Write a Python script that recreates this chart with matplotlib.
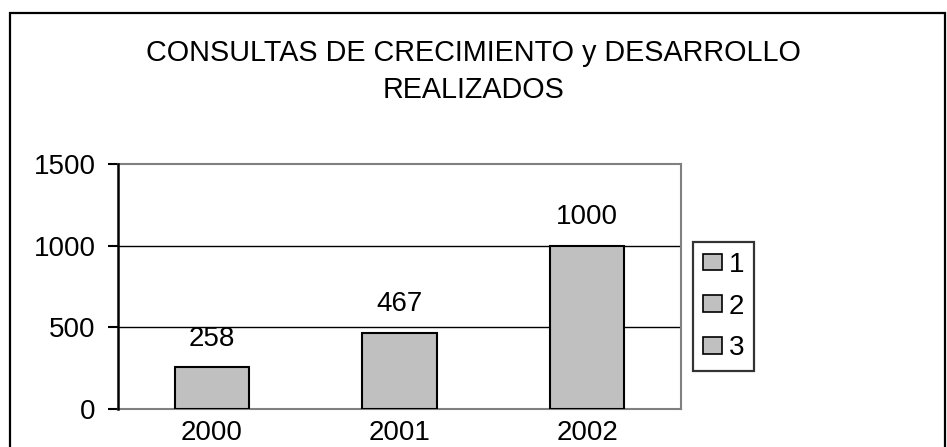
import matplotlib.pyplot as plt
from matplotlib.patches import Rectangle

plt.rcParams["font.family"] = ["Liberation Sans", "DejaVu Sans"]

TITLE = "CONSULTAS DE CRECIMIENTO y DESARROLLO\nREALIZADOS"
YEARS = ["2000", "2001", "2002"]
VALUES = [258, 467, 1000]
LEGEND_LABELS = ["1", "2", "3"]
Y_TICKS = [0, 500, 1000, 1500]

FONT_SIZE = 20
BAR_COLOR = "#c0c0c0"
W, H = 947, 447


def main() -> None:
    fig = plt.figure(figsize=(W / 100, H / 100), dpi=100)

    # Outer chart-area border (bottom runs off the picture).
    fig.patches.append(
        Rectangle((10 / W, -0.1), 935 / W, 1.1 - 13 / H, transform=fig.transFigure,
                  fill=False, edgecolor="black", linewidth=1.6)
    )

    fig.text(0.5, 1 - 39 / H, TITLE, ha="center", va="top", fontsize=20.7,
             linespacing=1.4)

    ax = fig.add_axes([118 / W, 1 - 409 / H, 563 / W, 245 / H])
    ax.set_xlim(-0.5, len(YEARS) - 0.5)
    ax.set_ylim(0, 1500)

    bars = ax.bar(range(len(YEARS)), VALUES, width=0.395, color=BAR_COLOR,
                  edgecolor="black", linewidth=1.5, zorder=3)
    for patch, label in zip(bars.patches, LEGEND_LABELS):
        patch.set_label(label)

    for i, v in enumerate(VALUES):
        ax.annotate(str(v), xy=(i, v), xytext=(0, 11), textcoords="offset points",
                    ha="center", va="bottom", fontsize=FONT_SIZE)

    for y in Y_TICKS[1:-1]:
        ax.axhline(y, color="black", linewidth=1, zorder=1)

    ax.set_yticks(Y_TICKS)
    ax.set_xticks(range(len(YEARS)))
    ax.set_xticklabels(YEARS)
    ax.tick_params(axis="y", length=7, width=1.5, pad=9, labelsize=FONT_SIZE)
    ax.tick_params(axis="x", length=0, pad=8, labelsize=FONT_SIZE)

    for side in ("top", "right", "bottom"):
        ax.spines[side].set_color("#808080")
        ax.spines[side].set_linewidth(1.5)
    ax.spines["left"].set_color("black")
    ax.spines["left"].set_linewidth(1.8)
    ax.spines["left"].set_zorder(4)

    leg = fig.legend(handles=bars.patches, loc="upper left",
                     bbox_to_anchor=(693 / W, 1 - 242 / H), fontsize=FONT_SIZE,
                     frameon=True, fancybox=False, borderaxespad=0,
                     handlelength=0.68, handleheight=0.55, handletextpad=0.25,
                     labelspacing=0.57, borderpad=0.35)
    frame = leg.get_frame()
    frame.set_edgecolor("black")
    frame.set_linewidth(1.6)
    for h in leg.legend_handles:
        h.set_linewidth(1.2)

    fig.savefig("out.png", dpi=100)


if __name__ == "__main__":
    main()
